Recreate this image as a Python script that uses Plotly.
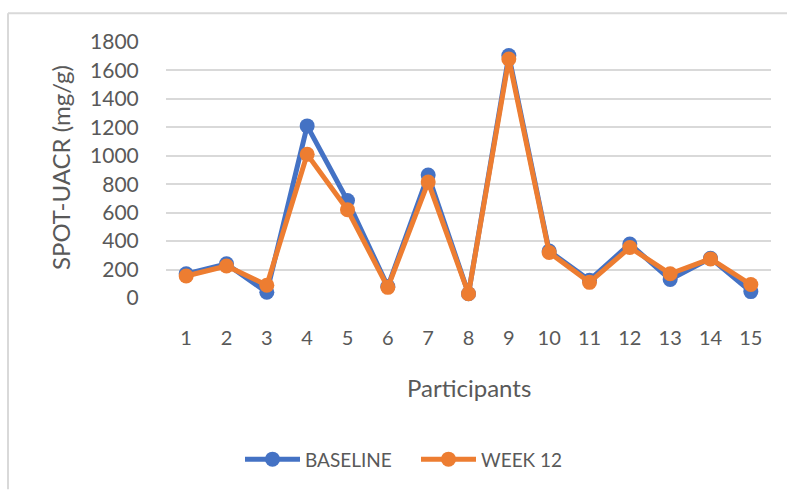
import plotly.graph_objects as go

participants = [str(i) for i in range(1, 16)]
baseline = [170, 240, 40, 1210, 685, 80, 865, 30, 1705, 330, 125, 380, 130, 280, 45]
week12 = [155, 225, 90, 1010, 620, 75, 815, 30, 1680, 320, 110, 355, 170, 275, 95]
y_ticks = [0, 200, 400, 600, 800, 1000, 1200, 1400, 1600, 1800]

BLUE = "#4472C4"
ORANGE = "#ED7D31"
TXT = "#595959"
FONT = "Lato"

fig = go.Figure()
fig.add_trace(go.Scatter(x=participants, y=baseline, name="BASELINE", mode="lines+markers",
                         line=dict(color=BLUE, width=5), marker=dict(size=15, color=BLUE),
                         cliponaxis=False))
fig.add_trace(go.Scatter(x=participants, y=week12, name="WEEK 12", mode="lines+markers",
                         line=dict(color=ORANGE, width=5), marker=dict(size=15, color=ORANGE),
                         cliponaxis=False))

fig.update_layout(
    width=787, height=490,
    margin=dict(l=166, r=16, t=42, b=192, autoexpand=False),
    paper_bgcolor="white", plot_bgcolor="white",
    font=dict(family=FONT, color=TXT, size=20),
    showlegend=True,
    legend=dict(orientation="h", x=(240 - 166) / 605, y=-0.63, xanchor="left", yanchor="middle",
                font=dict(size=19, color=TXT), itemwidth=55, entrywidth=106),
    xaxis=dict(type="category", range=[-0.5, 14.5], showgrid=False, zeroline=False,
               showline=False, ticks="outside", ticklen=22, tickcolor="rgba(0,0,0,0)",
               tickfont=dict(size=20, color=TXT)),
    yaxis=dict(range=[0, 1800], tickvals=y_ticks, showgrid=True, gridcolor="#d9d9d9",
               gridwidth=1.5, zeroline=False, showline=False, ticks="outside", ticklen=22,
               tickcolor="rgba(0,0,0,0)", tickfont=dict(size=21, color=TXT)),
    annotations=[
        dict(text="Participants", xref="paper", yref="paper", x=0.5,
             y=(298.3 - 388) / 256.6, showarrow=False, xanchor="center", yanchor="middle",
             font=dict(size=24, color=TXT)),
        dict(text="SPOT-UACR (mg/g)", xref="paper", yref="paper", x=(60 - 166) / 605,
             y=(298.3 - 168) / 256.6, showarrow=False, xanchor="center", yanchor="middle",
             textangle=-90, font=dict(size=24, color=TXT)),
    ],
    shapes=[
        dict(type="line", xref="paper", yref="paper", x0=(8 - 166) / 605, x1=(787 - 166) / 605,
             y0=(298.3 - 13) / 256.6, y1=(298.3 - 13) / 256.6, line=dict(color="#d9d9d9", width=2)),
        dict(type="line", xref="paper", yref="paper", x0=(8 - 166) / 605, x1=(8 - 166) / 605,
             y0=(298.3 - 13) / 256.6, y1=(298.3 - 490) / 256.6, line=dict(color="#d9d9d9", width=2)),
    ],
)

fig.write_html("out.html", config={"displayModeBar": False},
               post_script="document.body.style.margin='0';")
